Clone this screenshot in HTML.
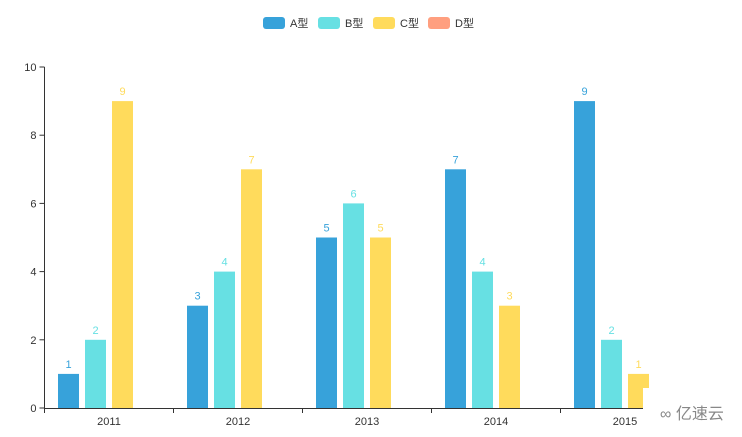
<!DOCTYPE html>
<html><head><meta charset="utf-8"><style>
body{margin:0;background:#fff;font-family:"Liberation Sans","Noto Sans CJK SC",sans-serif}
svg text{font-family:"Liberation Sans","Noto Sans CJK SC",sans-serif}
</style></head><body>
<svg id="c" width="742" height="432"></svg>
<script>
const categories=["2011","2012","2013","2014","2015"];
const seriesNames=["A型","B型","C型","D型"];
const seriesA=[1,3,5,7,9];
const seriesB=[2,4,6,4,2];
const seriesC=[9,7,5,3,1];
const seriesD=[null,null,null,null,null];
const yTicks=[0,2,4,6,8,10];
const colors=["#37a2da","#67e0e3","#ffdb5c","#ff9f7f"];
const NS="http://www.w3.org/2000/svg";
const svg=document.getElementById('c');
function mk(t,a,p){const e=document.createElementNS(NS,t);for(const k in a)e.setAttribute(k,a[k]);(p||svg).appendChild(e);return e;}
const x0=44.5,x1=689.5,yTop=67,yBot=408,yMax=10;
const band=(x1-x0)/categories.length;
const y=v=>yBot-(v/yMax)*(yBot-yTop);
const bw=21,gap=6;
const all=[seriesA,seriesB,seriesC,seriesD];
// y axis
let e=mk('line',{x1:x0,y1:yTop,x2:x0,y2:yBot,stroke:'#333'});

yTicks.forEach(t=>{
 mk('line',{x1:x0-5,y1:y(t),x2:x0,y2:y(t),stroke:'#333'});
 let tx=mk('text',{x:x0-8,y:y(t)+4,'text-anchor':'end','font-size':11,fill:'#333'});tx.textContent=t;
 
});
// bars
const groupW=4*bw+3*gap;
all.forEach((s,si)=>{
 s.forEach((v,ci)=>{
  if(v==null)return;
  const bx=x0+band*ci+(band-groupW)/2+si*(bw+gap);
  let r=mk('rect',{x:bx,y:y(v),width:bw,height:yBot-y(v),fill:colors[si]});
  
  let l=mk('text',{x:bx+bw/2,y:y(v)-6,'text-anchor':'middle','font-size':11,fill:colors[si]});l.textContent=v;
  
 });
});
// x axis
e=mk('line',{x1:x0,y1:yBot+0.5,x2:x1,y2:yBot+0.5,stroke:'#333'});

for(let i=0;i<=categories.length;i++)mk('line',{x1:x0+band*i,y1:yBot,x2:x0+band*i,y2:yBot+5,stroke:'#333'});
categories.forEach((c,i)=>{
 let t=mk('text',{x:x0+band*(i+0.5),y:yBot+17,'text-anchor':'middle','font-size':11,fill:'#333'});t.textContent=c;
 
});
// legend
seriesNames.forEach((n,i)=>{
 const lx=263+i*55;
 let g=mk('g',{});
 mk('rect',{x:lx,y:17,width:22,height:12,rx:3,fill:colors[i]},g);
 let t=mk('text',{x:lx+27,y:27,'font-size':11,fill:'#333'},g);t.textContent=n;
});
// watermark
e=mk('rect',{x:643,y:388,width:99,height:44,fill:'#fff'});

let wm=mk('text',{x:660,y:419,'font-size':16,fill:'#888'});wm.textContent='∞ 亿速云';

</script>
</body></html>
